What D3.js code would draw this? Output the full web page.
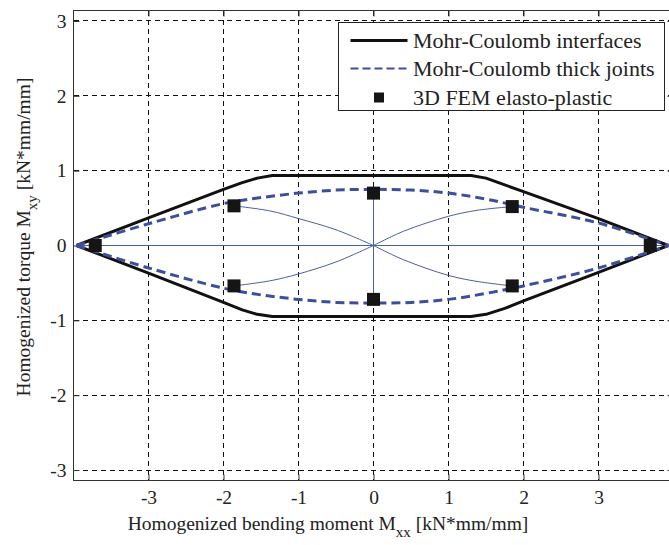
<!DOCTYPE html>
<html lang="en">
  <head>
    <meta charset="UTF-8" />
    <title>Mohr-Coulomb failure domains</title>
    <script src="https://d3js.org/d3.v7.min.js"></script>
    <style>
      body {
        margin: 0;
        background: white;
      }
      svg {
        display: block;
        font-family: "Liberation Serif", "Times New Roman", serif;
      }
      .grid line {
        stroke: #111;
        stroke-width: 1;
        stroke-dasharray: 5, 4;
        shape-rendering: crispEdges;
      }
      .tick-label {
        font-size: 19.5px;
        fill: #222;
      }
    </style>
  </head>
  <body>
    <script>
      // values (x = M_xx, y = M_xy)
      const xTicks = [-3, -2, -1, 0, 1, 2, 3];
      const yTicks = [-3, -2, -1, 0, 1, 2, 3];

      const interfacesUpper = [
        [-3.96, 0], [-3, 0.37], [-2, 0.75], [-1.75, 0.84], [-1.55, 0.9],
        [-1.35, 0.935], [1.3, 0.935], [1.5, 0.9], [1.75, 0.81], [2, 0.72],
        [3, 0.36], [3.93, 0]
      ];
      const interfacesLower = [
        [-3.96, 0], [-3, -0.37], [-2, -0.76], [-1.75, -0.86], [-1.55, -0.92],
        [-1.35, -0.95], [1.3, -0.95], [1.5, -0.92], [1.75, -0.84], [2, -0.74],
        [3, -0.36], [3.93, 0]
      ];
      const jointsUpper = [
        [-3.96, 0], [-3, 0.29], [-2, 0.56], [-1.5, 0.64], [-1, 0.7],
        [-0.5, 0.74], [0, 0.75], [0.5, 0.74], [1, 0.7], [1.5, 0.62],
        [2, 0.51], [3, 0.3], [3.93, 0]
      ];
      const jointsLower = [
        [-3.96, 0], [-3, -0.3], [-2, -0.57], [-1.5, -0.66], [-1, -0.72],
        [-0.5, -0.76], [0, -0.77], [0.5, -0.76], [1, -0.72], [1.5, -0.64],
        [2, -0.54], [3, -0.3], [3.93, 0]
      ];
      const femPoints = [
        [-3.71, 0], [-1.86, 0.53], [0, 0.7], [1.85, 0.52],
        [3.69, 0], [1.85, -0.54], [0, -0.72], [-1.86, -0.54]
      ];
      // thin load paths from the origin
      const paths = [
        [[-1.86, 0.53], [-1.37, 0.46], [-1, 0.36], [-0.5, 0.21], [0, 0]],
        [[1.85, 0.52], [1.38, 0.47], [1, 0.39], [0.4, 0.19], [0, 0]],
        [[-1.86, -0.54], [-1.37, -0.47], [-1, -0.38], [-0.5, -0.22], [0, 0]],
        [[1.85, -0.54], [1.38, -0.48], [1, -0.4], [0.4, -0.19], [0, 0]],
        [[0, 0.7], [0, -0.72]],
        [[-3.96, 0], [3.93, 0]]
      ];
      const legendItems = [
        "Mohr-Coulomb interfaces",
        "Mohr-Coulomb thick joints",
        "3D FEM elasto-plastic"
      ];

      const width = 669, height = 545;
      const mLeft = 73.5, mRight = 673.5, mTop = 10.5, mBottom = 480.5;
      const blue = "#3d4f9c";

      const svg = d3.select("body").append("svg")
        .attr("width", width).attr("height", height);

      const x = d3.scaleLinear().domain([-4, 4]).range([mLeft, mRight]);
      const y = d3.scaleLinear().domain([-3.14, 3.14]).range([mBottom, mTop]);

      // grid (the y = 0 line is covered by the thin load path)
      const grid = svg.append("g").attr("class", "grid");
      grid.selectAll(".gx").data(xTicks).enter().append("line")
        .attr("x1", d => x(d)).attr("x2", d => x(d))
        .attr("y1", mTop).attr("y2", mBottom);
      grid.selectAll(".gy").data(yTicks.filter(d => d !== 0)).enter().append("line")
        .attr("y1", d => y(d)).attr("y2", d => y(d))
        .attr("x1", mLeft).attr("x2", mRight);

      // axes (ticks inside on all four sides)
      const fmt = d => String(d);
      const axB = d3.axisBottom(x).tickValues(xTicks).tickSize(-6).tickPadding(10).tickFormat(fmt);
      const axT = d3.axisTop(x).tickValues(xTicks).tickSize(-6).tickFormat("");
      const axL = d3.axisLeft(y).tickValues(yTicks).tickSize(-6).tickPadding(7).tickFormat(fmt);
      const axR = d3.axisRight(y).tickValues(yTicks).tickSize(-6).tickFormat("");
      [[axB, `translate(0,${mBottom})`], [axT, `translate(0,${mTop})`],
       [axL, `translate(${mLeft},0)`], [axR, `translate(${mRight},0)`]].forEach(([ax, t]) => {
        const g = svg.append("g").attr("transform", t).call(ax);
        g.attr("font-family", null).attr("font-size", null);
        g.select(".domain").remove();
        g.selectAll(".tick line").attr("stroke", "#333");
        g.selectAll(".tick text").attr("class", "tick-label");
      });
      svg.append("rect")
        .attr("x", mLeft).attr("y", mTop)
        .attr("width", mRight - mLeft).attr("height", mBottom - mTop)
        .attr("fill", "none").attr("stroke", "#333").attr("stroke-width", 1);

      const line = d3.line().x(d => x(d[0])).y(d => y(d[1]));
      const curve = d3.line().x(d => x(d[0])).y(d => y(d[1])).curve(d3.curveCatmullRom);

      // thin blue lines
      svg.selectAll(".path").data(paths).enter().append("path")
        .attr("d", curve)
        .attr("fill", "none").attr("stroke", "#4a5ea8").attr("stroke-width", 1);

      // Mohr-Coulomb interfaces
      [interfacesUpper, interfacesLower].forEach(s => {
        svg.append("path").datum(s).attr("d", line)
          .attr("fill", "none").attr("stroke", "#111").attr("stroke-width", 3)
          .attr("stroke-linejoin", "round");
      });

      // Mohr-Coulomb thick joints
      [jointsUpper, jointsLower].forEach(s => {
        svg.append("path").datum(s).attr("d", curve)
          .attr("fill", "none").attr("stroke", blue).attr("stroke-width", 3)
          .attr("stroke-dasharray", "9,5");
      });

      // FEM points
      const sq = 13;
      svg.selectAll(".fem").data(femPoints).enter().append("rect")
        .attr("x", d => x(d[0]) - sq / 2).attr("y", d => y(d[1]) - sq / 2)
        .attr("width", sq).attr("height", sq).attr("fill", "#151515");

      // legend
      const lg = svg.append("g").attr("transform", "translate(338.5,22.5)");
      lg.append("rect").attr("width", 326).attr("height", 88)
        .attr("fill", "white").attr("stroke", "#222").attr("stroke-width", 1);
      const rowY = [18, 46, 75];
      lg.selectAll(".lt").data(legendItems).enter().append("text")
        .attr("x", 74.5).attr("y", (d, i) => rowY[i] + 7)
        .attr("font-size", 22).attr("fill", "#222").text(d => d);
      lg.append("line").attr("x1", 12).attr("x2", 69).attr("y1", rowY[0]).attr("y2", rowY[0])
        .attr("stroke", "#111").attr("stroke-width", 3);
      lg.append("line").attr("x1", 12).attr("x2", 69).attr("y1", rowY[1]).attr("y2", rowY[1])
        .attr("stroke", blue).attr("stroke-width", 2).attr("stroke-dasharray", "8,4");
      lg.append("rect").attr("x", 40.5 - 5).attr("y", rowY[2] - 5).attr("width", 10).attr("height", 10)
        .attr("fill", "#151515");

      // axis titles
      const xt = svg.append("text").attr("x", 328).attr("y", 530)
        .attr("text-anchor", "middle").attr("font-size", 19.5).attr("fill", "#222");
      xt.append("tspan").text("Homogenized bending moment M");
      xt.append("tspan").attr("dy", 7).attr("font-size", 15).text("xx");
      xt.append("tspan").attr("dy", -7).text(" [kN*mm/mm]");

      const yt = svg.append("text")
        .attr("transform", "translate(30,237) rotate(-90)")
        .attr("text-anchor", "middle").attr("font-size", 19.5).attr("fill", "#222");
      yt.append("tspan").text("Homogenized torque M");
      yt.append("tspan").attr("dy", 7).attr("font-size", 15).text("xy");
      yt.append("tspan").attr("dy", -7).text(" [kN*mm/mm]");
    </script>
  </body>
</html>
